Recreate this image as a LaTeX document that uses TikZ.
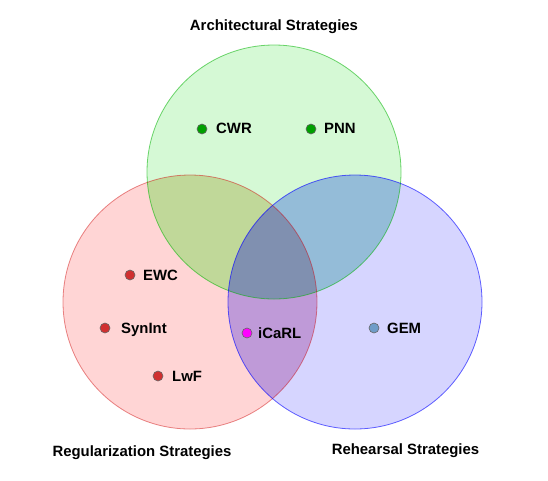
\documentclass[tikz,border=0pt]{standalone}
\usepackage{fontspec}
\setmainfont{Liberation Sans}
\definecolor{gOnly}{HTML}{D5F9D5}
\definecolor{rOnly}{HTML}{FFD5D5}
\definecolor{bOnly}{HTML}{D6D5FF}
\definecolor{rg}{HTML}{C0D899}
\definecolor{gb}{HTML}{94BCD8}
\definecolor{rb}{HTML}{BF9AD8}
\definecolor{rgb}{HTML}{8090B0}
\definecolor{dotG}{HTML}{00A000}
\definecolor{dotR}{HTML}{D03030}
\definecolor{dotM}{HTML}{FF00FF}
\definecolor{dotB}{HTML}{6F9CC8}
\begin{document}
\begin{tikzpicture}[x=1pt,y=-1pt,
  lbl/.style={font=\fontsize{14.9}{17}\selectfont\bfseries,inner sep=0pt,anchor=base west},
  ttl/.style={font=\fontsize{14.9}{17}\selectfont\bfseries,inner sep=0pt,anchor=base},
  pt/.style={circle,minimum size=10pt,inner sep=0pt,draw=black!60,line width=0.6pt}]
\useasboundingbox (0,0) rectangle (548,480);
\def\R{127}
% base fills
\fill[gOnly] (274,172) circle (\R);
\fill[rOnly] (190,302) circle (\R);
\fill[bOnly] (355,302) circle (\R);
% pair overlaps
\begin{scope}\clip (274,172) circle (\R); \fill[rg] (190,302) circle (\R); \end{scope}
\begin{scope}\clip (274,172) circle (\R); \fill[gb] (355,302) circle (\R); \end{scope}
\begin{scope}\clip (190,302) circle (\R); \fill[rb] (355,302) circle (\R); \end{scope}
\begin{scope}\clip (274,172) circle (\R); \clip (190,302) circle (\R); \fill[rgb] (355,302) circle (\R); \end{scope}
% outlines
\draw[green!70!black,opacity=0.55,line width=0.8pt] (274,172) circle (\R);
\draw[red!80!black,opacity=0.45,line width=0.8pt] (190,302) circle (\R);
\draw[blue,opacity=0.6,line width=0.8pt] (355,302) circle (\R);
% titles
\node[ttl] (tA) at (274,30) {Architectural Strategies};
\node[ttl] (tR) at (142,456) {Regularization Strategies};
\node[ttl] (tH) at (405.5,454) {Rehearsal Strategies};
% points
\node[pt,fill=dotG] (pCWR) at (202,129) {};
\node[lbl] (lCWR) at (216,133.5) {CWR};
\node[pt,fill=dotG] (pPNN) at (311,129) {};
\node[lbl] (lPNN) at (324,133.5) {PNN};
\node[pt,fill=dotR] (pEWC) at (130,275) {};
\node[lbl] (lEWC) at (143,280.3) {EWC};
\node[pt,fill=dotR] (pSyn) at (105,328) {};
\node[lbl] (lSyn) at (121,333.3) {SynInt};
\node[pt,fill=dotR] (pLwF) at (158,376) {};
\node[lbl] (lLwF) at (172,381.3) {LwF};
\node[pt,fill=dotM] (piCaRL) at (247,333) {};
\node[lbl] (liCaRL) at (258,338.3) {iCaRL};
\node[pt,fill=dotB] (pGEM) at (374,328) {};
\node[lbl] (lGEM) at (387,333.3) {GEM};
\end{tikzpicture}
\end{document}
